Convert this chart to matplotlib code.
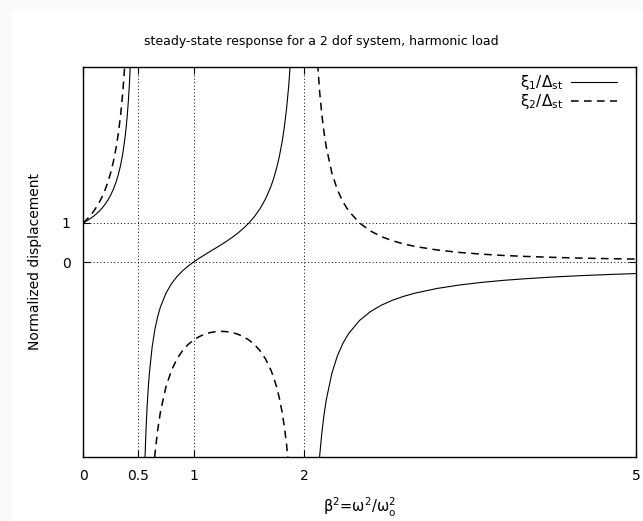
import matplotlib
matplotlib.use('Agg')
import matplotlib.pyplot as plt
from matplotlib.patches import Rectangle

# beta^2 values and normalized displacements, one list per branch
x_low = [0.0, 0.025, 0.05, 0.075, 0.1, 0.125, 0.15, 0.175, 0.2, 0.225, 0.25, 0.275,
         0.3, 0.32, 0.34, 0.36, 0.38, 0.39, 0.4, 0.41, 0.42, 0.43, 0.44]
xi1_low = [1.0, 1.039, 1.083, 1.131, 1.184, 1.244, 1.313, 1.391, 1.481, 1.588, 1.714,
           1.868, 2.059, 2.249, 2.485, 2.787, 3.189, 3.444, 3.75, 4.123, 4.589, 5.187, 5.983]
xi2_low = [1.0, 1.066, 1.140, 1.222, 1.316, 1.422, 1.544, 1.686, 1.852, 2.049, 2.286,
           2.576, 2.941, 3.307, 3.765, 4.355, 5.144, 5.647, 6.25, 6.988, 7.911, 9.099, 10.68]

x_mid = [0.55, 0.555, 0.56, 0.565, 0.57, 0.575, 0.58, 0.59, 0.6, 0.625, 0.65, 0.675,
         0.7, 0.75, 0.8, 0.85, 0.9, 0.95, 1.0, 1.05, 1.1, 1.15, 1.2, 1.25, 1.3, 1.35,
         1.4, 1.45, 1.5, 1.55, 1.6, 1.65, 1.7, 1.725, 1.75, 1.775, 1.8, 1.82, 1.84,
         1.86, 1.88, 1.9]
xi1_mid = [-6.21, -5.600, -5.09, -4.664, -4.296, -3.977, -3.697, -3.231, -2.857, -2.182,
           -1.728, -1.402, -1.154, -0.8, -0.556, -0.373, -0.227, -0.106, 0.0, 0.096,
           0.185, 0.272, 0.357, 0.444, 0.536, 0.633, 0.741, 0.861, 1.0, 1.164, 1.364,
           1.615, 1.944, 2.152, 2.4, 2.702, 3.077, 3.451, 3.918, 4.517, 5.314, 6.43]
xi2_mid = [-13.79, -12.58, -11.57, -10.72, -9.99, -9.357, -8.803, -7.880, -7.143, -5.818,
           -4.938, -4.313, -3.846, -3.2, -2.778, -2.484, -2.273, -2.116, -2.0, -1.914,
           -1.852, -1.810, -1.786, -1.778, -1.786, -1.810, -1.852, -1.914, -2.0, -2.116,
           -2.273, -2.484, -2.778, -2.968, -3.2, -3.486, -3.846, -4.209, -4.664, -5.252,
           -6.039, -7.143]

x_high = [2.05, 2.08, 2.1, 2.12, 2.14, 2.16, 2.18, 2.2, 2.25, 2.3, 2.35, 2.4, 2.5, 2.6,
          2.7, 2.8, 2.9, 3.0, 3.2, 3.4, 3.6, 3.8, 4.0, 4.25, 4.5, 4.75, 5.0]
xi1_high = [-13.55, -8.544, -6.875, -5.761, -4.965, -4.367, -3.902, -3.529, -2.857, -2.407,
            -2.085, -1.842, -1.5, -1.270, -1.104, -0.978, -0.880, -0.8, -0.679, -0.591,
            -0.524, -0.471, -0.429, -0.385, -0.35, -0.321, -0.296]
xi2_high = [12.9, 7.911, 6.25, 5.144, 4.355, 3.765, 3.307, 2.941, 2.286, 1.852, 1.544,
            1.316, 1.0, 0.794, 0.649, 0.543, 0.463, 0.4, 0.309, 0.246, 0.202, 0.168,
            0.143, 0.119, 0.1, 0.086, 0.074]

xticks = [0, 0.5, 1, 2, 5]
xtick_labels = ['0', '0.5', '1', '2', '5']
yticks = [0, 1]

fig = plt.figure(figsize=(6.43, 5.21), dpi=100)
fig.patch.set_facecolor('#fafafa')
fig.patches.append(Rectangle((11 / 643, 0), 1, 1 - 11 / 521, transform=fig.transFigure,
                             facecolor='white', edgecolor='none', zorder=-1))
ax = fig.add_axes([83 / 643, 64 / 521, 553 / 643, 390 / 521])

lw = 0.8
dash = (5, 3.5)
l1, = ax.plot(x_low, xi1_low, color='black', lw=lw, label=r'ξ$_1$/Δ$_\mathregular{st}$')
ax.plot(x_mid, xi1_mid, color='black', lw=lw)
ax.plot(x_high, xi1_high, color='black', lw=lw)
l2, = ax.plot(x_low, xi2_low, color='black', lw=1.1, dashes=dash,
              label=r'ξ$_2$/Δ$_\mathregular{st}$')
ax.plot(x_mid, xi2_mid, color='black', lw=1.1, dashes=dash)
ax.plot(x_high, xi2_high, color='black', lw=1.1, dashes=dash)

ax.set_xlim(0, 5)
ax.set_ylim(-5, 5)
ax.set_xticks(xticks)
ax.set_xticklabels(xtick_labels)
ax.set_yticks(yticks)
ax.tick_params(direction='in', length=5, width=0.8, top=True, right=True,
               labelsize=10, color='black')
ax.tick_params(axis='x', pad=9)
ax.tick_params(axis='y', pad=9)
ax.grid(True, color='black', linestyle=(0, (1, 2.5)), linewidth=0.7)
for s in ax.spines.values():
    s.set_linewidth(1.0)

fig.text(0.5, 1 - 42 / 521, 'steady-state response for a 2 dof system, harmonic load',
         fontsize=9, ha='center', va='center')
ax.set_xlabel(r'β$^2$=ω$^2$/ω$_\mathregular{o}^2$', fontsize=10.5, labelpad=9)
ax.set_ylabel('Normalized displacement', fontsize=10, labelpad=14)

ax.legend(handles=[l1, l2], loc='upper right', bbox_to_anchor=(1 - 19 / 553, 1 - 6 / 390),
          frameon=False, markerfirst=False, fontsize=11, handlelength=3.0,
          handletextpad=0.5, labelspacing=0.0, borderpad=0, borderaxespad=0)

fig.savefig('out.png', dpi=100, facecolor=fig.get_facecolor())
